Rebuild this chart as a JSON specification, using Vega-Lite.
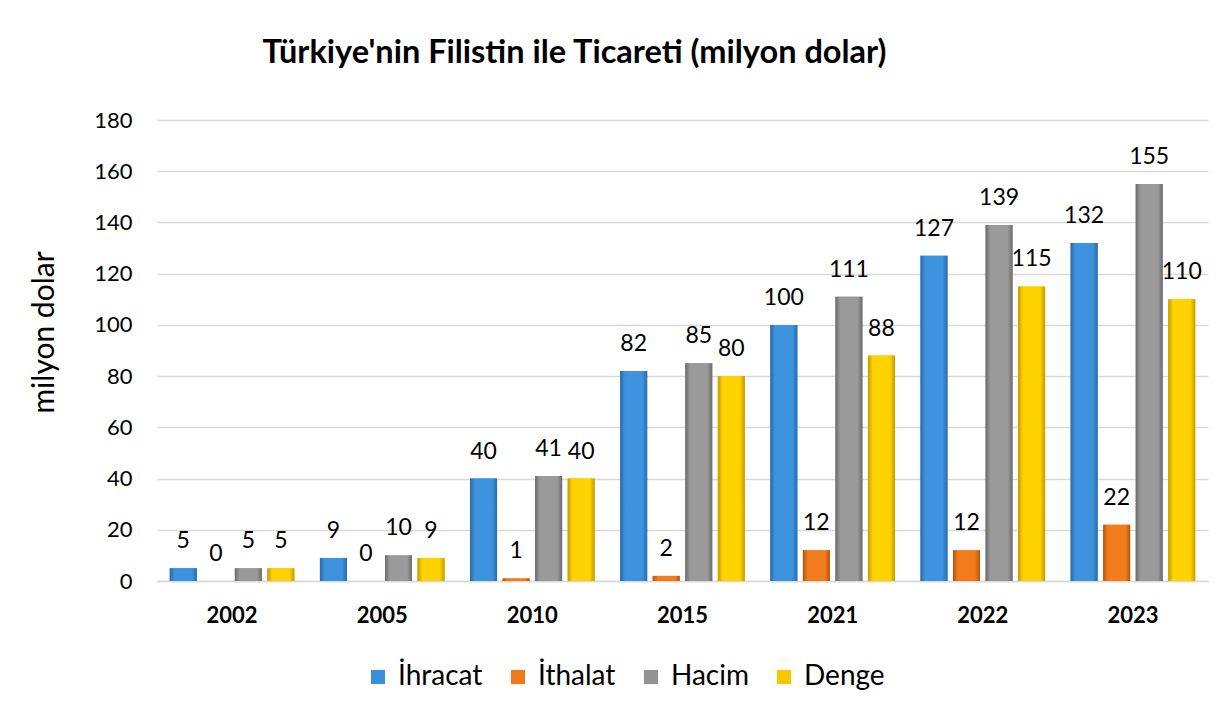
{
  "$schema": "https://vega.github.io/schema/vega-lite/v6.json",
  "autosize": "none",
  "width": 1051,
  "height": 461,
  "padding": {"left": 157, "top": 120, "right": 16, "bottom": 137},
  "background": "white",
  "title": {
    "text": "Türkiye'nin Filistin ile Ticareti (milyon dolar)",
    "font": "Lato",
    "fontSize": 32.5,
    "fontWeight": "bold",
    "color": "#000000",
    "anchor": "middle",
    "frame": "group",
    "dx": -108,
    "offset": 40
  },
  "data": {
    "values": [
      {"year": "2002", "series": "İhracat", "value": 5},
      {"year": "2002", "series": "İthalat", "value": 0},
      {"year": "2002", "series": "Hacim", "value": 5},
      {"year": "2002", "series": "Denge", "value": 5},
      {"year": "2005", "series": "İhracat", "value": 9},
      {"year": "2005", "series": "İthalat", "value": 0},
      {"year": "2005", "series": "Hacim", "value": 10},
      {"year": "2005", "series": "Denge", "value": 9},
      {"year": "2010", "series": "İhracat", "value": 40},
      {"year": "2010", "series": "İthalat", "value": 1},
      {"year": "2010", "series": "Hacim", "value": 41},
      {"year": "2010", "series": "Denge", "value": 40},
      {"year": "2015", "series": "İhracat", "value": 82},
      {"year": "2015", "series": "İthalat", "value": 2},
      {"year": "2015", "series": "Hacim", "value": 85},
      {"year": "2015", "series": "Denge", "value": 80},
      {"year": "2021", "series": "İhracat", "value": 100},
      {"year": "2021", "series": "İthalat", "value": 12},
      {"year": "2021", "series": "Hacim", "value": 111},
      {"year": "2021", "series": "Denge", "value": 88},
      {"year": "2022", "series": "İhracat", "value": 127},
      {"year": "2022", "series": "İthalat", "value": 12},
      {"year": "2022", "series": "Hacim", "value": 139},
      {"year": "2022", "series": "Denge", "value": 115},
      {"year": "2023", "series": "İhracat", "value": 132},
      {"year": "2023", "series": "İthalat", "value": 22},
      {"year": "2023", "series": "Hacim", "value": 155},
      {"year": "2023", "series": "Denge", "value": 110}
    ]
  },
  "encoding": {
    "x": {
      "field": "year",
      "type": "nominal",
      "sort": null,
      "scale": {"paddingInner": 0.17, "paddingOuter": 0.085},
      "axis": {
        "title": null,
        "labelAngle": 0,
        "labelFont": "Lato",
        "labelFontSize": 22,
        "labelFontWeight": "bold",
        "labelColor": "#000000",
        "labelPadding": 24,
        "ticks": false,
        "domain": true,
        "domainColor": "#d9d9d9",
        "domainWidth": 1.5
      }
    },
    "xOffset": {
      "field": "series",
      "type": "nominal",
      "sort": ["İhracat", "İthalat", "Hacim", "Denge"],
      "scale": {"domain": ["İhracat", "İthalat", "Hacim", "Denge"], "paddingInner": 0.17, "paddingOuter": 0}
    },
    "y": {
      "field": "value",
      "type": "quantitative",
      "scale": {"domain": [0, 180], "nice": false},
      "axis": {
        "title": "milyon dolar",
        "titleFont": "Lato",
        "titleFontSize": 30,
        "titleFontWeight": "normal",
        "titleColor": "#000000",
        "titlePadding": 34,
        "titleY": 212,
        "values": [0, 20, 40, 60, 80, 100, 120, 140, 160, 180],
        "labelFont": "Lato",
        "labelFontSize": 22,
        "labelColor": "#000000",
        "labelPadding": 25,
        "ticks": false,
        "domain": false,
        "grid": true,
        "gridColor": "#d9d9d9",
        "gridWidth": 1.5
      }
    }
  },
  "layer": [
    {
      "mark": {"type": "bar", "strokeWidth": 0},
      "encoding": {
        "color": {
          "field": "series",
          "type": "nominal",
          "sort": ["İhracat", "İthalat", "Hacim", "Denge"],
          "scale": {
            "domain": ["İhracat", "İthalat", "Hacim", "Denge"],
            "range": ["#3a8fd9", "#ef7a1e", "#939393", "#f7c800"]
          },
          "legend": {
            "title": null,
            "orient": "none",
            "direction": "horizontal",
            "legendX": 207,
            "legendY": 543,
            "symbolType": "square",
            "symbolSize": 200,
            "symbolStrokeWidth": 0,
            "labelFont": "Lato",
            "labelFontSize": 28,
            "labelColor": "#000000",
            "labelOffset": 6,
            "columnPadding": 21
          }
        }
      }
    },
    {
      "transform": [{"filter": "datum.series === 'İhracat'"}],
      "mark": {"type": "bar", "strokeWidth": 0, "color": {"gradient": "linear", "x1": 0, "y1": 0, "x2": 1, "y2": 0, "stops": [{"offset": 0, "color": "#2a6aa8"}, {"offset": 0.18, "color": "#3d93de"}, {"offset": 0.82, "color": "#3d93de"}, {"offset": 1, "color": "#2a6aa8"}]}}
    },
    {
      "transform": [{"filter": "datum.series === 'İthalat'"}],
      "mark": {"type": "bar", "strokeWidth": 0, "color": {"gradient": "linear", "x1": 0, "y1": 0, "x2": 1, "y2": 0, "stops": [{"offset": 0, "color": "#b4540c"}, {"offset": 0.18, "color": "#f27c1c"}, {"offset": 0.82, "color": "#f27c1c"}, {"offset": 1, "color": "#b4540c"}]}}
    },
    {
      "transform": [{"filter": "datum.series === 'Hacim'"}],
      "mark": {"type": "bar", "strokeWidth": 0, "color": {"gradient": "linear", "x1": 0, "y1": 0, "x2": 1, "y2": 0, "stops": [{"offset": 0, "color": "#6b6b6b"}, {"offset": 0.18, "color": "#9a9a9a"}, {"offset": 0.82, "color": "#9a9a9a"}, {"offset": 1, "color": "#6b6b6b"}]}}
    },
    {
      "transform": [{"filter": "datum.series === 'Denge'"}],
      "mark": {"type": "bar", "strokeWidth": 0, "color": {"gradient": "linear", "x1": 0, "y1": 0, "x2": 1, "y2": 0, "stops": [{"offset": 0, "color": "#c49a00"}, {"offset": 0.18, "color": "#ffd200"}, {"offset": 0.82, "color": "#ffd200"}, {"offset": 1, "color": "#c49a00"}]}}
    },
    {
      "mark": {
        "type": "text",
        "font": "Lato",
        "fontSize": 23,
        "color": "#000000",
        "baseline": "middle",
        "dy": -27
      },
      "encoding": {
        "text": {"field": "value", "type": "quantitative"}
      }
    }
  ],
  "config": {
    "view": {"stroke": null}
  }
}
